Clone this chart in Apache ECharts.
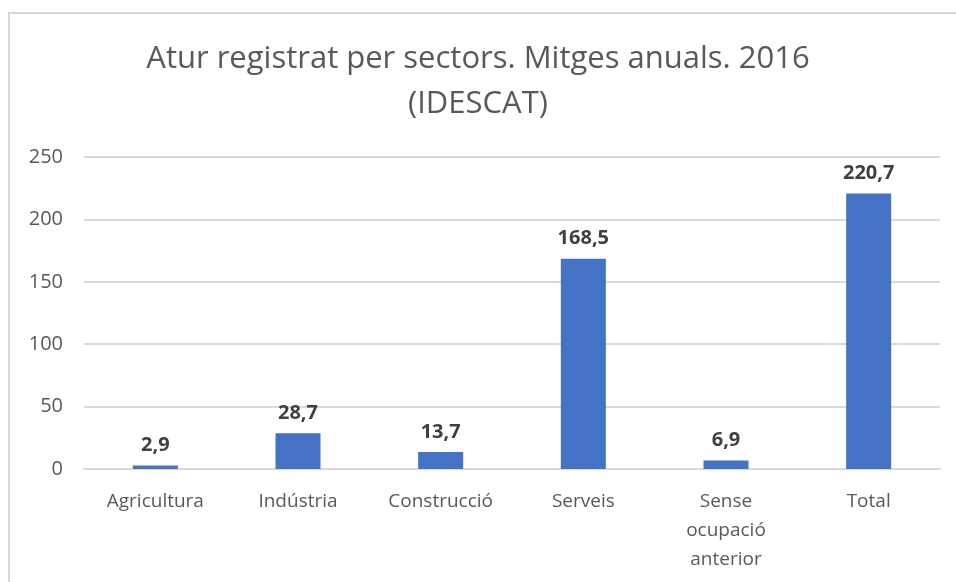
<!DOCTYPE html>
<html>
<head>
    <meta charset="utf-8">
    <title>Atur registrat per sectors</title>
    <script src="https://cdn.jsdelivr.net/npm/echarts@6/dist/echarts.min.js"></script>
    <style>
        html, body { margin: 0; padding: 0; background: #fff; }
        #frame { position: absolute; left: 8px; top: 12px; width: 960px; height: 600px;
                 border: 2px solid #d9d9d9; box-sizing: border-box; }
    </style>
</head>
<body>
<div id="frame"></div>
<div id="main" style="position:absolute;left:0;top:0;width:956px;height:582px;"></div>
<script type="text/javascript">

        var sectors = ['Agricultura', 'Indústria', 'Construcció', 'Serveis', 'Sense\nocupació\nanterior', 'Total'];
        var aturMitja = [2.9, 28.7, 13.7, 168.5, 6.9, 220.7];
        var yTicks = [0, 50, 100, 150, 200, 250];

        var fontFam = '"Open Sans", "Noto Sans", sans-serif';

        var myChart = echarts.init(document.getElementById('main'));
        var option = {
            animation: false,
            title: {
                text: 'Atur registrat per sectors. Mitges anuals. 2016\n(IDESCAT)',
                left: 'center',
                top: 32,
                textStyle: {
                    color: '#595959',
                    fontFamily: fontFam,
                    fontWeight: 'normal',
                    fontSize: 31,
                    lineHeight: 45
                }
            },
            grid: { left: 84, right: 16, top: 157, bottom: 113 },
            xAxis: {
                type: 'category',
                data: sectors,
                axisLine: { lineStyle: { color: '#d9d9d9', width: 2 } },
                axisTick: { show: false },
                axisLabel: {
                    color: '#595959',
                    fontFamily: fontFam,
                    fontSize: 19,
                    lineHeight: 29,
                    margin: 18,
                    interval: 0
                }
            },
            yAxis: {
                type: 'value',
                min: yTicks[0],
                max: yTicks[yTicks.length - 1],
                interval: 50,
                axisLine: { show: false },
                axisTick: { show: false },
                splitLine: { lineStyle: { color: '#d9d9d9', width: 2 } },
                axisLabel: {
                    color: '#595959',
                    fontFamily: fontFam,
                    fontSize: 20,
                    margin: 21
                }
            },
            series: [{
                type: 'bar',
                data: aturMitja,
                barWidth: 45,
                itemStyle: { color: '#4472C4' },
                label: {
                    show: true,
                    position: 'top',
                    distance: 10,
                    color: '#404040',
                    fontFamily: fontFam,
                    fontWeight: 'bold',
                    fontSize: 20,
                    formatter: function (p) {
                        return p.value.toFixed(1).replace('.', ',');
                    }
                }
            }]
        };
        myChart.setOption(option);

</script>
</body>
</html>
